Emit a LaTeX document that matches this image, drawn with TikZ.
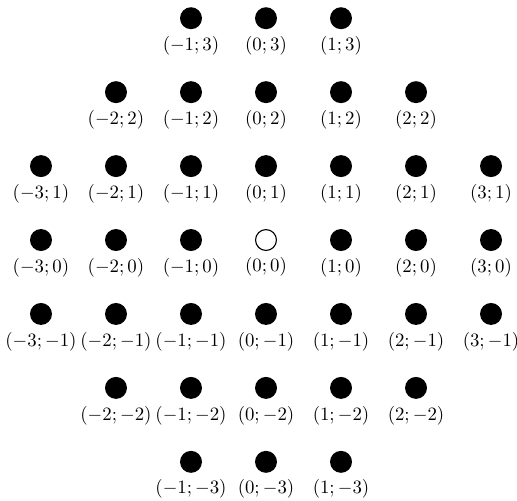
\documentclass[tikz,border=0pt]{standalone}
\usepackage{amsmath, amssymb}
\usetikzlibrary{positioning}
\tikzstyle{dot} = [circle, fill=black, minimum size=0.41cm, inner sep=0pt, label={below:$(\x;\y)$}]
\tikzstyle{hole} = [circle, draw=black, line width=0.6pt, fill=white, minimum size=0.39cm, inner sep=0pt, label={below:$(\x;\y)$}]

\begin{document}
\begin{tikzpicture}[x=1.4cm, y=1.38cm]
  \useasboundingbox (-4.965cm,-4.86cm) rectangle (4.685cm,4.48cm);
  \foreach \y/\n in {3/1, 2/2, 1/3, 0/3, -1/3, -2/2, -3/1}
    \foreach \x in {-\n,...,\n} {
      \ifnum\x=0 \ifnum\y=0 \def\kind{hole}\else\def\kind{dot}\fi \else\def\kind{dot}\fi
      \node (p\x\y)[\kind] at (\x,\y) {};
    }
\end{tikzpicture}
\end{document}
